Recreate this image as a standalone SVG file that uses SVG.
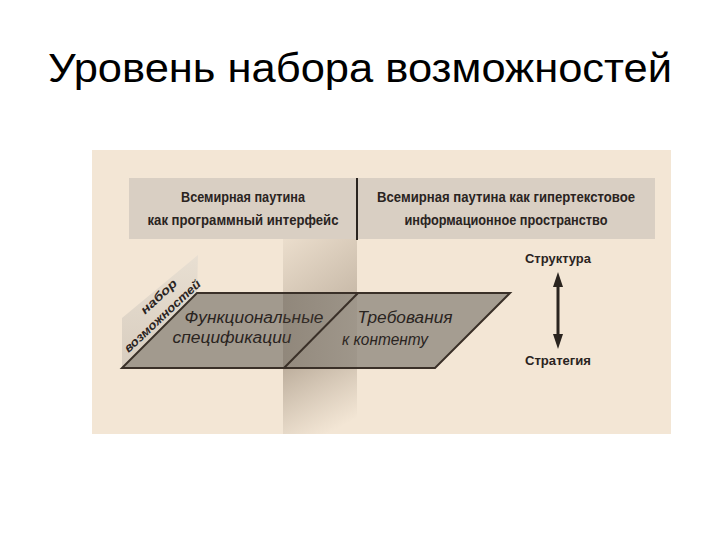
<svg xmlns="http://www.w3.org/2000/svg" width="720" height="540" viewBox="0 0 720 540">
<style>
.title{font-family:"Liberation Sans",Arial,sans-serif;font-size:41px;fill:#000}
.hdr{font-family:"Liberation Sans",Arial,sans-serif;font-size:15px;font-weight:bold;fill:#2a241f;text-anchor:middle}
.it{font-family:"Liberation Sans",Arial,sans-serif;font-size:16px;font-style:italic;fill:#2a241f;text-anchor:middle}
.side{font-family:"Liberation Sans",Arial,sans-serif;font-size:12px;font-weight:bold;font-style:italic;fill:#2a241f;text-anchor:middle}
.lbl{font-family:"Liberation Sans",Arial,sans-serif;font-size:12px;font-weight:bold;fill:#2a241f;text-anchor:middle}
.edge{stroke:#3a3028;stroke-width:2;fill:none}
</style>
<defs>
<linearGradient id="bandUp" x1="0" y1="0" x2="1" y2="1">
<stop offset="0" stop-color="#8a7a68" stop-opacity="0.08"/>
<stop offset="1" stop-color="#8a7a68" stop-opacity="0.4"/>
</linearGradient>
<linearGradient id="bandDown" x1="0" y1="0" x2="0.6" y2="1">
<stop offset="0" stop-color="#7a6a58" stop-opacity="0.45"/>
<stop offset="1" stop-color="#8a7a68" stop-opacity="0"/>
</linearGradient>
<linearGradient id="bandH" x1="0" y1="0" x2="1" y2="0">
<stop offset="0" stop-color="#5a4d40" stop-opacity="0.3"/>
<stop offset="1" stop-color="#5a4d40" stop-opacity="0.1"/>
</linearGradient>
<linearGradient id="plane" x1="0" y1="0" x2="0" y2="1">
<stop offset="0" stop-color="#e8dfd2"/>
<stop offset="1" stop-color="#d8cdbf"/>
</linearGradient>
</defs>
<rect width="720" height="540" fill="#ffffff"/>
<g id="title"><text class="title" x="48" y="82" textLength="624" lengthAdjust="spacingAndGlyphs">Уровень набора возможностей</text></g>
<rect id="panel" x="92" y="150" width="579" height="284" fill="#f3e6d5"/>
<g id="band">
<rect x="283" y="239" width="74" height="54" fill="url(#bandUp)"/>
<rect x="283" y="368" width="74" height="66" fill="url(#bandDown)"/>
</g>
<g id="header-left">
<rect x="129" y="178" width="228" height="61" fill="#d9cfc3"/>
<text class="hdr" x="243" y="202" textLength="124" lengthAdjust="spacingAndGlyphs">Всемирная паутина</text>
<text class="hdr" x="243" y="225" textLength="191" lengthAdjust="spacingAndGlyphs">как программный интерфейс</text>
</g>
<g id="header-right">
<rect x="357" y="178" width="298" height="61" fill="#d9cfc3"/>
<text class="hdr" x="506" y="202" textLength="258" lengthAdjust="spacingAndGlyphs">Всемирная паутина как гипертекстовое</text>
<text class="hdr" x="506" y="225" textLength="203" lengthAdjust="spacingAndGlyphs">информационное пространство</text>
</g>
<g id="connectors">
<line x1="357" y1="178" x2="357" y2="240" stroke="#2a241f" stroke-width="2"/>
<line x1="558" y1="283" x2="558" y2="338" stroke="#2a241f" stroke-width="3"/>
<polygon points="558,272 553,287 563,287" fill="#2a241f"/>
<polygon points="558,349 553,334 563,334" fill="#2a241f"/>
</g>
<g id="side-plane">
<polygon points="122,368 197,293 198,255 122,318" fill="url(#plane)"/>
<text class="side" transform="translate(161.5 299.5) rotate(-43)" textLength="45" lengthAdjust="spacingAndGlyphs">набор</text>
<text class="side" transform="translate(165 319) rotate(-43)" textLength="100" lengthAdjust="spacingAndGlyphs">возможностей</text>
</g>
<g id="func-spec">
<polygon points="197,293 358,293 284,368 122,368" fill="#a29a8e"/>
<text class="it" x="254" y="323" textLength="139" lengthAdjust="spacingAndGlyphs">Функциональные</text>
<text class="it" x="232" y="343" textLength="119" lengthAdjust="spacingAndGlyphs">спецификации</text>
</g>
<g id="content-req">
<polygon points="358,293 510,293 435,368 284,368" fill="#a59d91"/>
<text class="it" x="405" y="323" textLength="95" lengthAdjust="spacingAndGlyphs">Требования</text>
<text class="it" x="385" y="345" textLength="86" lengthAdjust="spacingAndGlyphs">к контенту</text>
</g>
<rect x="283" y="294" width="74" height="73" fill="url(#bandH)" opacity="0.8"/>
<g id="outline">
<polygon class="edge" points="197,293 510,293 435,368 122,368"/>
<line class="edge" x1="358" y1="293" x2="284" y2="368"/>
</g>
<g id="axis-labels">
<text class="lbl" x="558" y="263" textLength="66" lengthAdjust="spacingAndGlyphs">Структура</text>
<text class="lbl" x="558" y="365" textLength="66" lengthAdjust="spacingAndGlyphs">Стратегия</text>
</g>
</svg>
